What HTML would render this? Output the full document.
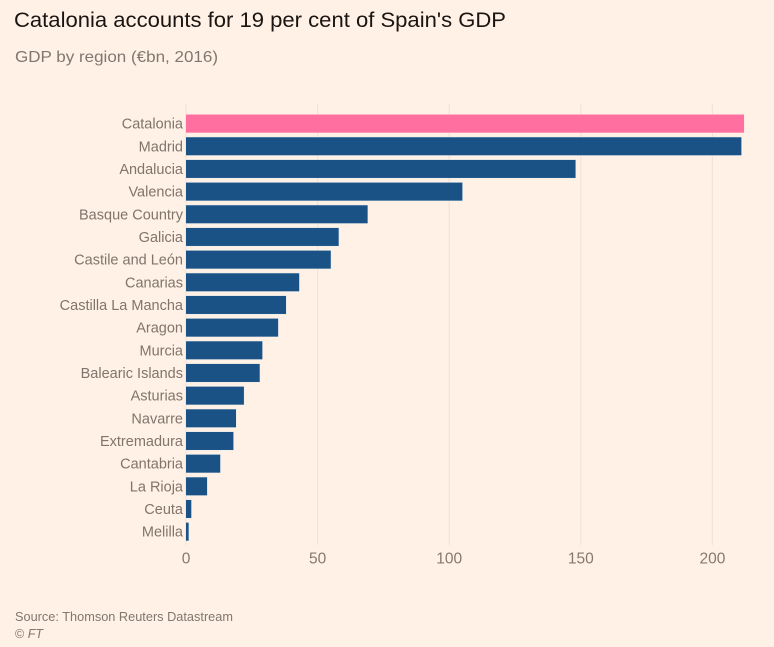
<!DOCTYPE html>
<html lang="en">
<head>
<meta charset="utf-8">
<title>Catalonia accounts for 19 per cent of Spain's GDP</title>
<style>
html,body{margin:0;padding:0;background:#fff1e5;}
body{width:774px;height:647px;overflow:hidden;}
svg{display:block;}
text{font-family:"Liberation Sans",sans-serif;}
</style>
</head>
<body>
<svg id="chart" width="774" height="647" viewBox="0 0 774 647" xmlns="http://www.w3.org/2000/svg">
  <rect x="0" y="0" width="774" height="647" fill="#fff1e5"/>
  <text x="14" y="27" font-size="21.5" fill="#1a1512" textLength="492" lengthAdjust="spacingAndGlyphs">Catalonia accounts for 19 per cent of Spain's GDP</text>
  <text x="15" y="62" font-size="16" fill="#7f7770" textLength="203" lengthAdjust="spacingAndGlyphs">GDP by region (€bn, 2016)</text>
  <g id="grid"></g>
  <g id="bars"></g>
  <g id="labels"></g>
  <g id="ticks"></g>
  <text x="15" y="621" font-size="12.5" fill="#7f7770" textLength="218" lengthAdjust="spacingAndGlyphs">Source: Thomson Reuters Datastream</text>
  <text x="15" y="638" font-size="12.5" fill="#7f7770">© <tspan font-style="italic">FT</tspan></text>
</svg>
<script>
const categories = ["Catalonia","Madrid","Andalucia","Valencia","Basque Country","Galicia","Castile and León","Canarias","Castilla La Mancha","Aragon","Murcia","Balearic Islands","Asturias","Navarre","Extremadura","Cantabria","La Rioja","Ceuta","Melilla"];
const gdpValues = [212,211,148,105,69,58,55,43,38,35,29,28,22,19,18,13,8,2,1];
const tickValues = [0,50,100,150,200];
const highlightCategory = "Catalonia";

const NS = "http://www.w3.org/2000/svg";
function xScale(v){ return 186 + v * 2.632; }
function yBand(i){ return 123.6 + i * 22.67; }
function slug(s){ return s.toLowerCase().normalize("NFD").replace(/[^a-z ]/g,"").replace(/ +/g,"-"); }

const gridG = document.getElementById("grid");
const barsG = document.getElementById("bars");
const labelsG = document.getElementById("labels");
const ticksG = document.getElementById("ticks");

tickValues.forEach(function(t){
  const line = document.createElementNS(NS,"line");
  
  
  line.setAttribute("x1", xScale(t));
  line.setAttribute("x2", xScale(t));
  line.setAttribute("y1", 104);
  line.setAttribute("y2", 545);
  line.setAttribute("stroke", "#f5e2d8");
  line.setAttribute("stroke-width", "1.2");
  gridG.appendChild(line);

  const label = document.createElementNS(NS,"text");
  
  
  label.setAttribute("x", xScale(t));
  label.setAttribute("y", 563.5);
  label.setAttribute("text-anchor", "middle");
  label.setAttribute("font-size", "15.5");
  label.setAttribute("fill", "#85796f");
  label.textContent = t;
  ticksG.appendChild(label);
});

categories.forEach(function(name,i){
  const cy = yBand(i);
  const rect = document.createElementNS(NS,"rect");
  
  
  rect.setAttribute("x", xScale(0));
  rect.setAttribute("y", cy - 9);
  rect.setAttribute("width", Math.max(0, xScale(gdpValues[i]) - xScale(0)));
  rect.setAttribute("height", 18);
  rect.setAttribute("fill", name === highlightCategory ? "#ff6f9f" : "#1b5285");
  rect.setAttribute("stroke", name === highlightCategory ? "#ffd3dc" : "#d5e3ee");
  rect.setAttribute("stroke-width", "0.8");
  rect.setAttribute("stroke-opacity", "0.8");
  rect.setAttribute("paint-order", "stroke");
  barsG.appendChild(rect);

  const label = document.createElementNS(NS,"text");
  
  
  label.setAttribute("x", 183);
  label.setAttribute("y", cy + 5);
  label.setAttribute("text-anchor", "end");
  label.setAttribute("font-size", "14.5");
  label.setAttribute("fill", "#7f756c");
  label.textContent = name;
  labelsG.appendChild(label);
});
</script>
</body>
</html>
